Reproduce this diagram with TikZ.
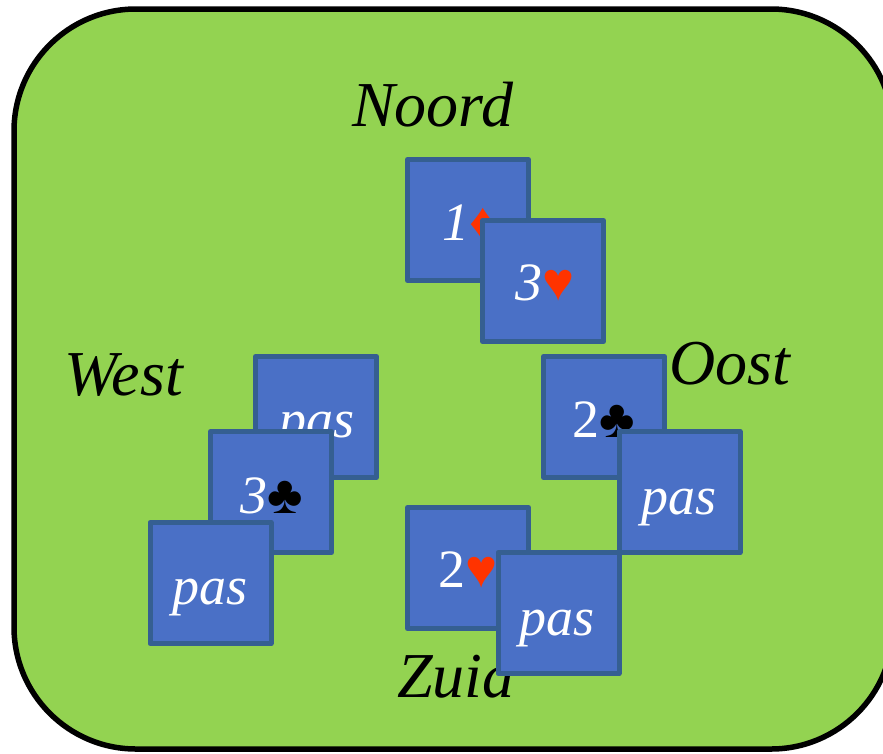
\documentclass[tikz,border=0pt]{standalone}
\usepackage{fontspec}
\setmainfont{Liberation Serif}
\definecolor{panelgreen}{HTML}{93D351}
\definecolor{cardblue}{HTML}{4A70C6}
\definecolor{cardline}{HTML}{355F91}
\definecolor{suitred}{HTML}{FF3300}
\tikzset{
  x=1pt,y=-1pt,
  panel/.style={fill=panelgreen,draw=black,line width=5.5pt,rounded corners=122pt},
  card/.style={fill=cardblue,draw=cardline,line width=5pt,line join=round,rectangle,inner sep=0pt,outer sep=0pt,minimum width=121pt,minimum height=121pt},
  seat/.style={anchor=base west,inner sep=0pt,font=\fontsize{64}{64}\selectfont\itshape,text=black},
  lab/.style={anchor=base west,inner sep=0pt,font=\fontsize{54}{54}\selectfont,text=white},
}
\begin{document}
\begin{tikzpicture}
\useasboundingbox (0,0) rectangle (883,753);
\clip (0,0) rectangle (883,753);
\draw[panel] (14,9) rectangle (893,749);
\node[seat] (noord) at (352,126) {Noord};
\node[seat] (west) at (64,395) {West};
\node[seat] (oost) at (669,384) {Oost};
\node[seat] (zuid) at (397,697) {Zuid};
% West
\node[card] (w1) at (316,417) {};
\node[lab] (w1t) at (279,437) {\itshape pas};
\node[card] (w2) at (271,492) {};
\node[lab] (w2t) at (240,513) {\itshape 3\textcolor{black}{♣}};
\node[card] (w3) at (210.5,583) {};
\node[lab] (w3t) at (172,604) {\itshape pas};
% Noord
\node[card] (n1) at (468,220) {};
\node[lab] (n1t) at (442,240) {\itshape 1\textcolor{suitred}{♦}};
\node[card] (n2) at (543,281) {};
\node[lab] (n2t) at (515,300) {\itshape 3\textcolor{suitred}{♥}};
% Oost
\node[card] (o1) at (604,417) {};
\node[lab] (o1t) at (572,437) {2\textcolor{black}{♣}};
\node[card] (o2) at (679.5,492) {};
\node[lab] (o2t) at (641,514) {\itshape pas};
% Zuid
\node[card] (z1) at (468,568) {};
\node[lab] (z1t) at (438,587) {2\textcolor{suitred}{♥}};
\node[card] (z2) at (558.5,613) {};
\node[lab] (z2t) at (519.5,635) {\itshape pas};
\end{tikzpicture}
\end{document}
